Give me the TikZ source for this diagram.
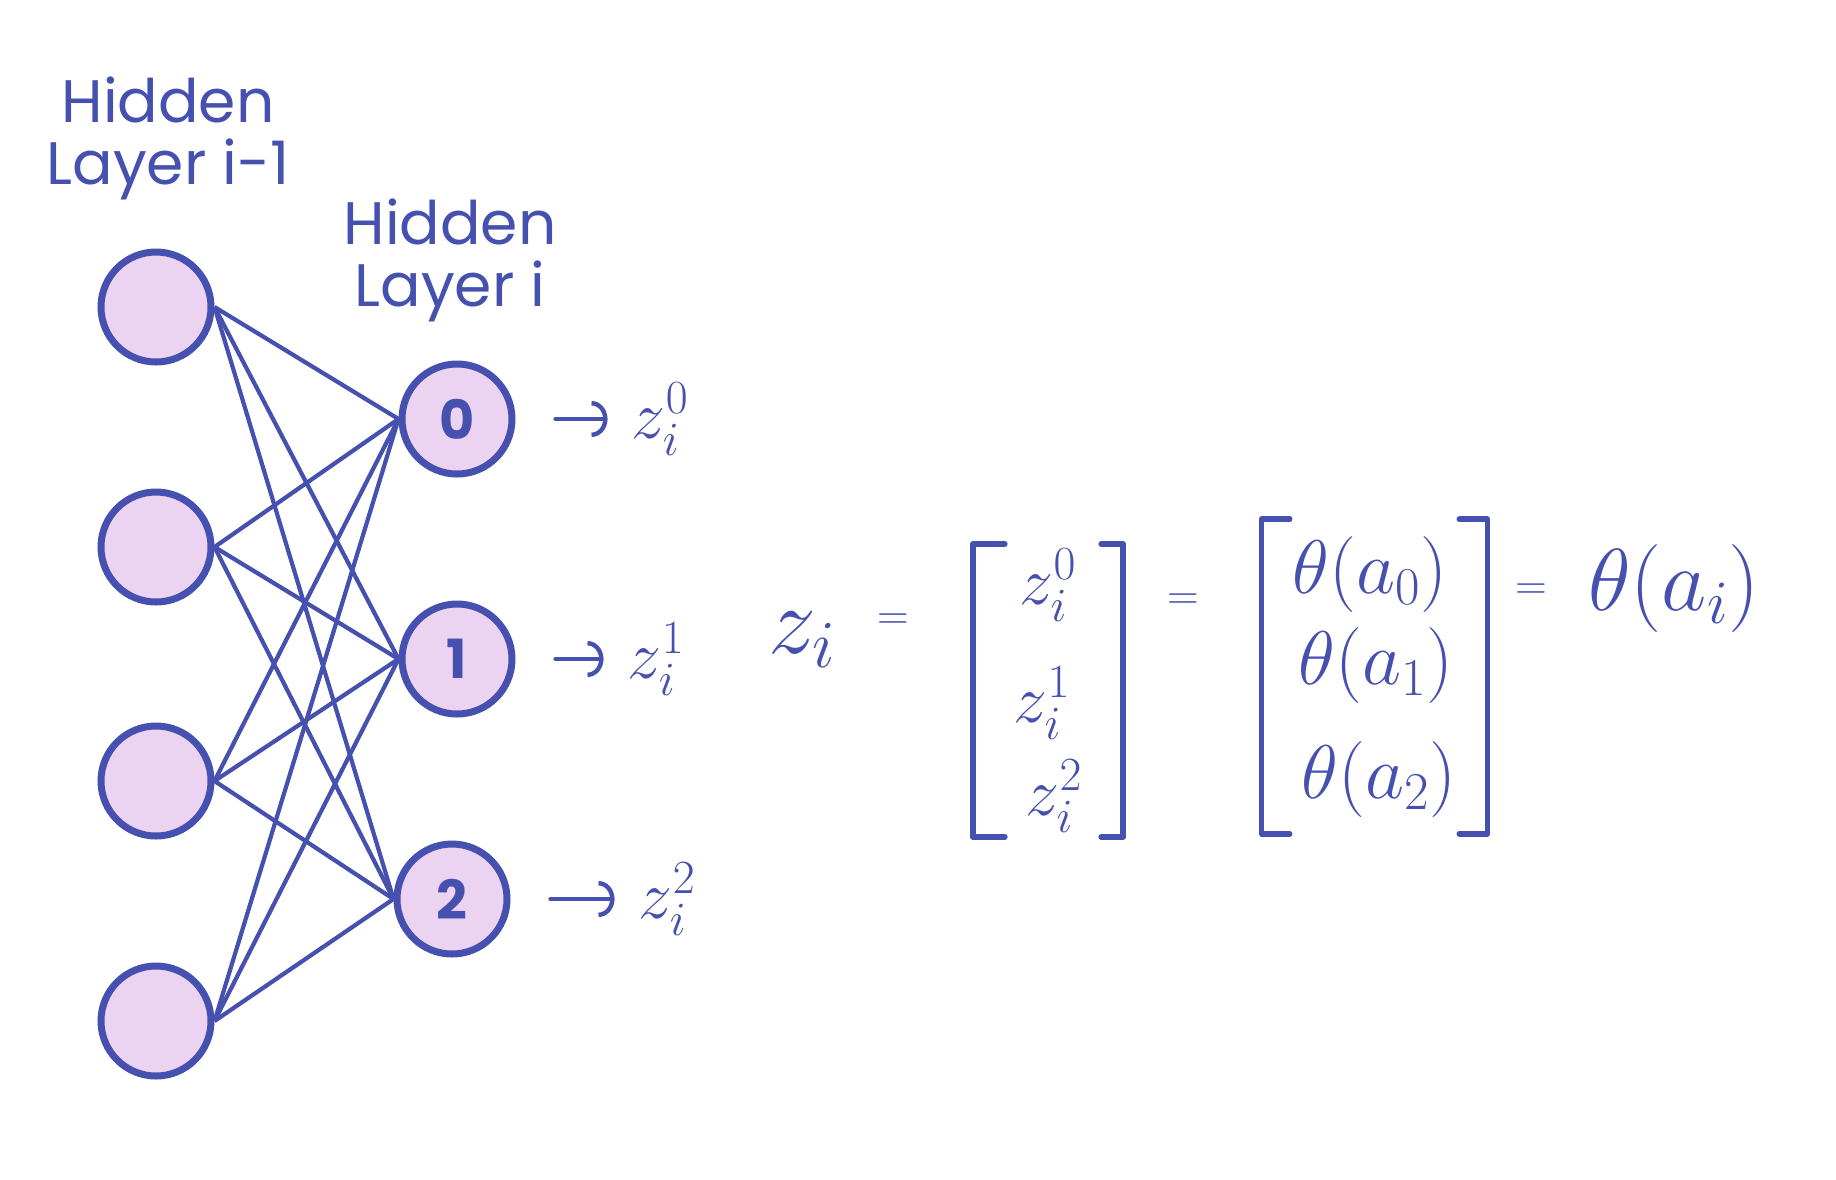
\RequirePackage{fix-cm}
\documentclass[tikz,border=0pt]{standalone}
\usepackage{fontspec}
\setmainfont{Poppins}
\usetikzlibrary{arrows.meta,positioning,fit}
\definecolor{inkblue}{RGB}{69,80,175}
\definecolor{unitpink}{RGB}{237,211,242}
\tikzset{
  unit/.style={circle, draw=inkblue, fill=unitpink, line width=3.5pt, minimum size=55pt,
    inner sep=0pt, text=inkblue, font=\fontsize{27}{27}\selectfont\bfseries},
  wire/.style={draw=inkblue, line width=2.1pt},
  layertitle/.style={align=center, text=inkblue, inner sep=0pt,
    font=\fontsize{30}{31}\selectfont},
  zlab/.style={text=inkblue, inner sep=0pt, font=\fontsize{34}{36}\selectfont},
  zbig/.style={text=inkblue, inner sep=0pt, font=\fontsize{48}{50}\selectfont},
  thlab/.style={text=inkblue, inner sep=0pt, font=\fontsize{38}{40}\selectfont},
  thbig/.style={text=inkblue, inner sep=0pt, font=\fontsize{44}{46}\selectfont},
  eqsign/.style={text=inkblue, inner sep=0pt, font=\fontsize{22}{22}\selectfont},
  outarr/.style={-{Arc Barb[length=8pt,width=18pt]}, draw=inkblue, line width=2.2pt,
    line cap=round},
  brk/.style={draw=inkblue, line width=2.8pt, line cap=round, line join=round}
}
\begin{document}
\begin{tikzpicture}[x=0.5pt,y=-0.5pt]
  \useasboundingbox (0,0) rectangle (1836,1179);
  \node[layertitle] (tprev) at (168,138) {Hidden\\Layer i-1};
  \node[layertitle] (tcur) at (450,260) {Hidden\\Layer i};
  \node[unit] (p1) at (156,307) {};
  \node[unit] (p2) at (156,547) {};
  \node[unit] (p3) at (156,781) {};
  \node[unit] (p4) at (156,1021) {};
  \node[unit] (c0) at (457,419) {0};
  \node[unit] (c1) at (457,659) {1};
  \node[unit] (c2) at (452,899) {2};
  \foreach \p in {1,...,4}
    \foreach \c in {0,1,2}
      \draw[wire] (p\p.east) -- (c\c.west);
  \node[zlab, right=58pt of c0] (z0) {$z_i^0$};
  \node[zlab, right=56pt of c1] (z1) {$z_i^1$};
  \node[zlab, right=64pt of c2] (z2) {$z_i^2$};
  \foreach \c in {0,1,2}
    \draw[outarr, shorten <=20pt, shorten >=12pt] (c\c.east) -- (z\c.west);
  \node[zbig] (zi) at (802,640) {$z_i$};
  \node[eqsign] (q0) at (893,622) {$=$};
  \node[zlab] (e0) at (1048,585) {$z_i^0$};
  \node[zlab] (e1) at (1042,703) {$z_i^1$};
  \node[zlab] (e2) at (1054,796) {$z_i^2$};
  \node[inner xsep=20pt, inner ysep=2pt, fit=(e0)(e1)(e2)] (vz) {};
  \draw[brk] ([xshift=16pt]vz.north west) -- (vz.north west) -- (vz.south west) -- ([xshift=16pt]vz.south west);
  \draw[brk] ([xshift=-11pt]vz.north east) -- (vz.north east) -- (vz.south east) -- ([xshift=-11pt]vz.south east);
  \node[eqsign] (q1) at (1183,602) {$=$};
  \node[thlab] (s0) at (1370,574) {$\theta(a_0)$};
  \node[thlab] (s1) at (1376,665) {$\theta(a_1)$};
  \node[thlab] (s2) at (1379,779) {$\theta(a_2)$};
  \node[inner xsep=15pt, inner ysep=8pt, fit=(s0)(s1)(s2)] (vs) {};
  \draw[brk] ([xshift=14pt]vs.north west) -- (vs.north west) -- (vs.south west) -- ([xshift=14pt]vs.south west);
  \draw[brk] ([xshift=-14pt]vs.north east) -- (vs.north east) -- (vs.south east) -- ([xshift=-14pt]vs.south east);
  \node[eqsign] (q2) at (1531,592) {$=$};
  \node[thbig] (sa) at (1674,588) {$\theta(a_i)$};
\end{tikzpicture}
\end{document}
